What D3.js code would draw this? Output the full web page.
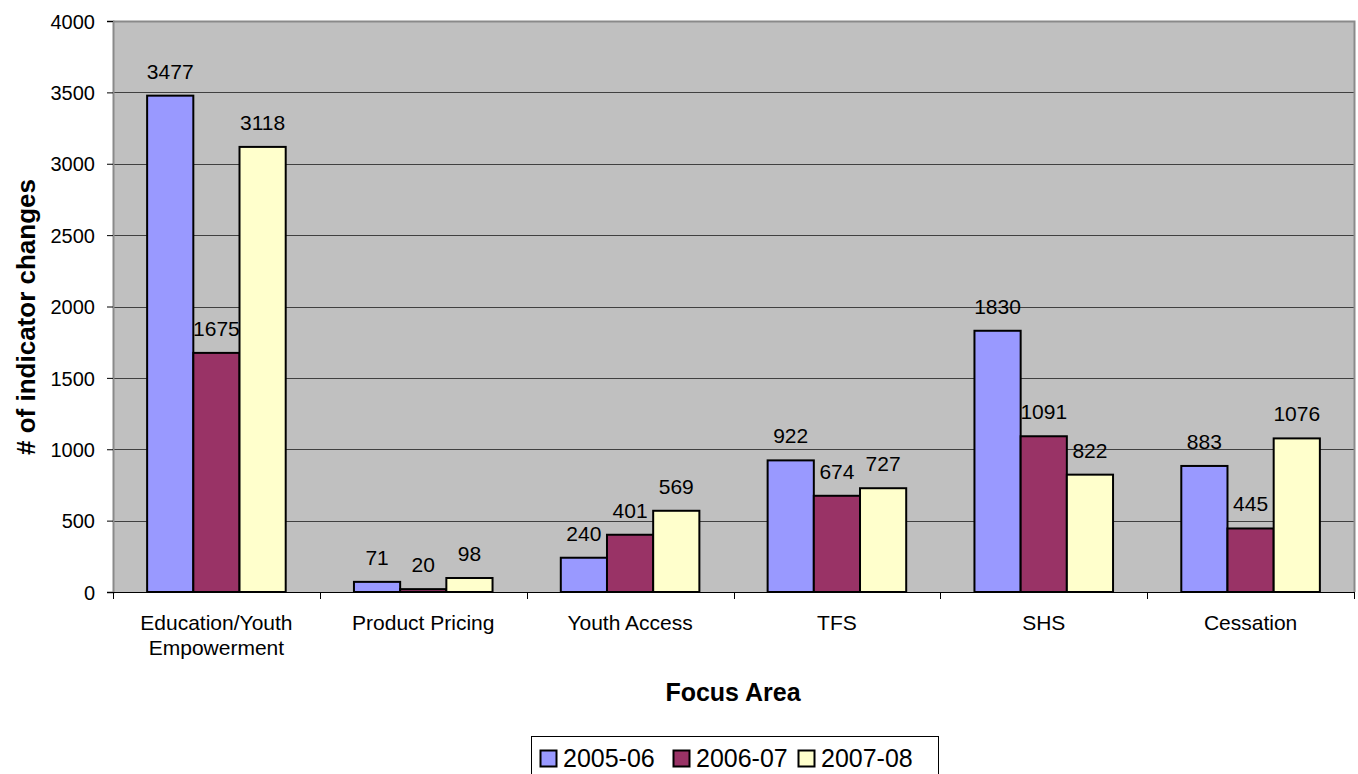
<!DOCTYPE html>
<html>
<head>
<meta charset="utf-8"/>
<title>Indicator changes by focus area</title>
<script src="https://cdn.jsdelivr.net/npm/d3@7"></script>
<style>
  body { margin: 0; background: #fff; }
  text { font-family: Arial, "Liberation Sans", sans-serif; fill: #000; }
</style>
</head>
<body>
<svg id="chart" width="1358" height="774"></svg>
<script>
// chart data
var categories = [["Education/Youth", "Empowerment"], ["Product Pricing"], ["Youth Access"], ["TFS"], ["SHS"], ["Cessation"]];
var seriesNames = ["2005-06", "2006-07", "2007-08"];
var values2005 = [3477, 71, 240, 922, 1830, 883];
var values2006 = [1675, 20, 401, 674, 1091, 445];
var values2007 = [3118, 98, 569, 727, 822, 1076];
var yTicks = [0, 500, 1000, 1500, 2000, 2500, 3000, 3500, 4000];

var colors = ["#9999ff", "#993366", "#ffffcc"];
var series = [values2005, values2006, values2007];
var FONT = "Arial, 'Liberation Sans', sans-serif";

var svg = d3.select("#chart");
var plot = { left: 113, right: 1354, top: 21, bottom: 592 };

var x = d3.scaleBand()
    .domain(d3.range(categories.length))
    .range([plot.left, plot.right])
    .paddingInner(0.33).paddingOuter(0.165);
var xs = d3.scaleBand().domain(d3.range(series.length)).range([0, x.bandwidth()]);
var y = d3.scaleLinear().domain([0, 4000]).range([plot.bottom, plot.top]);

// plot background
svg.append("rect")
    .attr("x", plot.left).attr("y", plot.top)
    .attr("width", plot.right - plot.left).attr("height", plot.bottom - plot.top)
    .attr("fill", "#c0c0c0");

// gridlines
svg.append("g").selectAll("line")
    .data(yTicks.filter(function(d) { return d > 0 && d < 4000; }))
    .join("line")
    .attr("x1", plot.left).attr("x2", plot.right)
    .attr("y1", function(d) { return Math.round(y(d)) + 0.5; })
    .attr("y2", function(d) { return Math.round(y(d)) + 0.5; })
    .attr("stroke", "#404040").attr("stroke-width", 1);

// border (top and right)
svg.append("path")
    .attr("d", "M" + plot.left + "," + (plot.top + 0.5) + "H" + (plot.right + 0.5) + "V" + plot.bottom)
    .attr("fill", "none").attr("stroke", "#8a8a8a").attr("stroke-width", 2);

// bars + value labels
var groups = svg.append("g").selectAll("g")
    .data(series).join("g")
    .attr("fill", function(d, i) { return colors[i]; });

groups.each(function(vals, si) {
    var g = d3.select(this);
    g.selectAll("rect").data(vals).join("rect")
        .attr("x", function(d, ci) { return x(ci) + xs(si); })
        .attr("y", function(d) { return y(d); })
        .attr("width", xs.bandwidth())
        .attr("height", function(d) { return y(0) - y(d); })
        .attr("stroke", "#000").attr("stroke-width", 2);
    g.selectAll("text").data(vals).join("text")
        .attr("x", function(d, ci) { return x(ci) + xs(si) + xs.bandwidth() / 2; })
        .attr("y", function(d) { return y(d) - 17; })
        .attr("text-anchor", "middle")
        .attr("font-size", 21)
        .style("fill", "#000")
        .text(function(d) { return d; });
});

// y axis
var yAxis = d3.axisLeft(y).tickValues(yTicks).tickFormat(d3.format("d")).tickSize(6).tickPadding(12);
var ya = svg.append("g").attr("transform", "translate(" + plot.left + ",0)").call(yAxis);
ya.attr("font-family", FONT).attr("font-size", 20);
ya.select(".domain").attr("stroke", "#8a8a8a").attr("stroke-width", 2);
ya.selectAll(".tick line").attr("stroke", "#000");
ya.selectAll(".tick text").attr("dy", "0.36em");

// x axis line and category separators
var boundaries = d3.range(categories.length + 1).map(function(i) {
    return plot.left + i * (plot.right - plot.left) / categories.length;
});
svg.append("line")
    .attr("x1", plot.left).attr("x2", plot.right)
    .attr("y1", plot.bottom + 0.5).attr("y2", plot.bottom + 0.5)
    .attr("stroke", "#000");
svg.append("g").selectAll("line").data(boundaries).join("line")
    .attr("x1", function(d) { return Math.round(d) + 0.5; })
    .attr("x2", function(d) { return Math.round(d) + 0.5; })
    .attr("y1", plot.bottom).attr("y2", plot.bottom + 7)
    .attr("stroke", "#000");

svg.append("g").selectAll("text").data(categories).join("text")
    .attr("text-anchor", "middle")
    .attr("font-size", 21)
    .attr("transform", function(d, i) { return "translate(" + (x(i) + x.bandwidth() / 2) + ",630)"; })
    .each(function(lines) {
        var t = d3.select(this);
        lines.forEach(function(line, k) {
            t.append("tspan").attr("x", 0).attr("dy", k === 0 ? 0 : 25).text(line);
        });
    });

// axis titles
svg.append("text")
    .attr("x", 733).attr("y", 701)
    .attr("text-anchor", "middle")
    .attr("font-size", 25).attr("font-weight", "bold")
    .text("Focus Area");

svg.append("text")
    .attr("transform", "translate(35,317) rotate(-90)")
    .attr("text-anchor", "middle")
    .attr("font-size", 26).attr("font-weight", "bold")
    .text("# of indicator changes");

// legend
var legend = svg.append("g").attr("transform", "translate(531,736)");
legend.append("rect")
    .attr("x", 0.5).attr("y", 0.5).attr("width", 407).attr("height", 45)
    .attr("fill", "#fff").attr("stroke", "#000");
var itemX = [9, 142, 267];
var items = legend.selectAll("g.item").data(seriesNames).join("g")
    .attr("class", "item")
    .attr("transform", function(d, i) { return "translate(" + itemX[i] + ",0)"; });
items.append("rect")
    .attr("x", 0.5).attr("y", 14.5).attr("width", 16).attr("height", 16)
    .attr("fill", function(d, i) { return colors[i]; })
    .attr("stroke", "#000").attr("stroke-width", 2);
items.append("text")
    .attr("x", 23).attr("y", 31)
    .attr("font-size", 25)
    .text(function(d) { return d; });
</script>
</body>
</html>
